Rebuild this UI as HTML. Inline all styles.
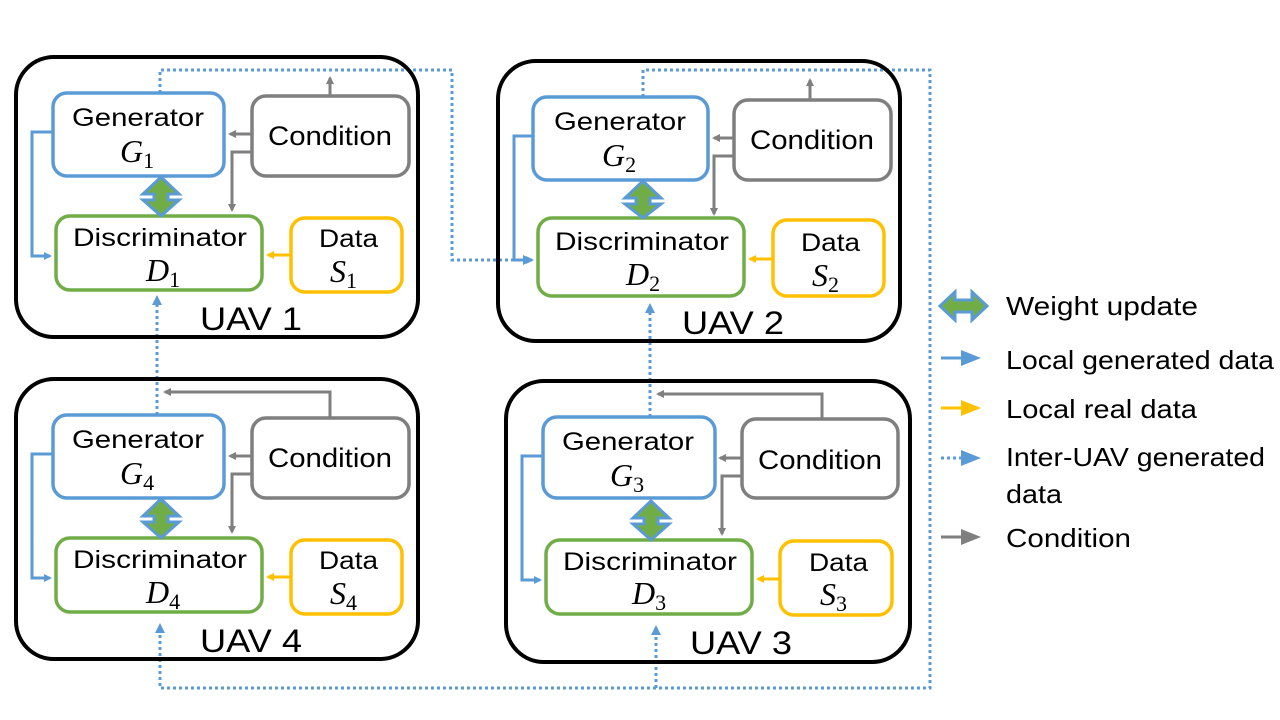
<!DOCTYPE html>
<html><head><meta charset="utf-8"><style>
html,body{margin:0;padding:0;background:#fff;}
svg{display:block;}
text{font-family:"Liberation Sans","DejaVu Sans",sans-serif;fill:#000;}
.m{font-family:"Liberation Serif",serif;font-style:italic;font-size:32px;}
.sub{font-style:normal;font-size:22px;}
.g{font-size:25px;}
.c{font-size:27px;}
</style></head><body>
<svg width="1280" height="720" viewBox="0 0 1280 720" xmlns="http://www.w3.org/2000/svg">
<defs>
<marker id="ab" markerWidth="8" markerHeight="8" refX="6" refY="4" orient="auto" markerUnits="userSpaceOnUse"><path d="M0,0 L8,4 L0,8 z" fill="#5b9bd5"/></marker>
<marker id="ag" markerWidth="8" markerHeight="8" refX="6" refY="4" orient="auto" markerUnits="userSpaceOnUse"><path d="M0,0 L8,4 L0,8 z" fill="#7f7f7f"/></marker>
<marker id="ay" markerWidth="8" markerHeight="8" refX="6" refY="4" orient="auto" markerUnits="userSpaceOnUse"><path d="M0,0 L8,4 L0,8 z" fill="#ffc000"/></marker>
<marker id="abd" markerWidth="10" markerHeight="10" refX="7" refY="5" orient="auto" markerUnits="userSpaceOnUse"><path d="M0,0 L10,5 L0,10 z" fill="#5b9bd5"/></marker>
</defs>

<g fill="none" stroke="#5b9bd5" stroke-width="3" stroke-dasharray="3,3">
<polyline points="160,93 160,70 452,70 452,260 530,260" marker-end="url(#abd)"/>
<polyline points="643,97 643,70 930,70 930,688 160,688 160,626" marker-end="url(#abd)"/>
<polyline points="656,688 656,628" marker-end="url(#abd)"/>
<polyline points="157,415 157,298" marker-end="url(#abd)"/>
<polyline points="650,417 650,306" marker-end="url(#abd)"/>
</g>

<g fill="none" stroke="#7f7f7f" stroke-width="3">
<polyline points="330,96 330,78" marker-end="url(#ag)"/>
<polyline points="810,100 810,80" marker-end="url(#ag)"/>
<polyline points="330,418 330,392 165,392" marker-end="url(#ag)"/>
<polyline points="822,419 822,394 658,394" marker-end="url(#ag)"/>
</g>

<g>
<rect x="16" y="57" width="402" height="280" rx="38" fill="none" stroke="#000" stroke-width="4"/>
<polyline points="53,132 32,132 32,256 50,256" fill="none" stroke="#5b9bd5" stroke-width="3" marker-end="url(#ab)"/>
<polyline points="252,134 230,134" fill="none" stroke="#7f7f7f" stroke-width="3" marker-end="url(#ag)"/>
<polyline points="252,152 232,152 232,210" fill="none" stroke="#7f7f7f" stroke-width="3" marker-end="url(#ag)"/>
<polyline points="291,255 268,255" fill="none" stroke="#ffc000" stroke-width="3" marker-end="url(#ay)"/>
<rect x="53" y="93" width="171" height="83" rx="14" fill="#fff" stroke="#5b9bd5" stroke-width="3.5"/>
<rect x="252" y="96" width="157" height="80" rx="14" fill="#fff" stroke="#7f7f7f" stroke-width="3.5"/>
<rect x="56" y="216" width="206" height="74" rx="14" fill="#fff" stroke="#70ad47" stroke-width="3.5"/>
<rect x="291" y="218" width="111" height="74" rx="14" fill="#fff" stroke="#ffc000" stroke-width="3.5"/>
<polygon points="161,177 179,194 168,194 168,200 179,200 161,216 143,200 154,200 154,194 143,194" fill="#70ad47" stroke="#5b9bd5" stroke-width="3"/>
<text class="g" x="72" y="126" textLength="132" lengthAdjust="spacingAndGlyphs">Generator</text>
<text class="c" x="268" y="145" textLength="124" lengthAdjust="spacingAndGlyphs">Condition</text>
<text class="g" x="73" y="246" textLength="174" lengthAdjust="spacingAndGlyphs">Discriminator</text>
<text class="g" x="319" y="247" textLength="59" lengthAdjust="spacingAndGlyphs">Data</text>
</g>
<g transform="translate(482,4)">
<rect x="16" y="57" width="402" height="280" rx="38" fill="none" stroke="#000" stroke-width="4"/>
<polyline points="51,132 32,132 32,256 50,256" fill="none" stroke="#5b9bd5" stroke-width="3" marker-end="url(#ab)"/>
<polyline points="252,134 232,134" fill="none" stroke="#7f7f7f" stroke-width="3" marker-end="url(#ag)"/>
<polyline points="252,152 232,152 232,210" fill="none" stroke="#7f7f7f" stroke-width="3" marker-end="url(#ag)"/>
<polyline points="291,255 268,255" fill="none" stroke="#ffc000" stroke-width="3" marker-end="url(#ay)"/>
<rect x="51" y="93" width="175" height="83" rx="14" fill="#fff" stroke="#5b9bd5" stroke-width="3.5"/>
<rect x="252" y="96" width="157" height="80" rx="14" fill="#fff" stroke="#7f7f7f" stroke-width="3.5"/>
<rect x="56" y="214" width="206" height="78" rx="14" fill="#fff" stroke="#70ad47" stroke-width="3.5"/>
<rect x="291" y="216" width="111" height="76" rx="14" fill="#fff" stroke="#ffc000" stroke-width="3.5"/>
<polygon points="161,177 179,194 168,194 168,200 179,200 161,214 143,200 154,200 154,194 143,194" fill="#70ad47" stroke="#5b9bd5" stroke-width="3"/>
<text class="g" x="72" y="126" textLength="132" lengthAdjust="spacingAndGlyphs">Generator</text>
<text class="c" x="268" y="145" textLength="124" lengthAdjust="spacingAndGlyphs">Condition</text>
<text class="g" x="73" y="246" textLength="174" lengthAdjust="spacingAndGlyphs">Discriminator</text>
<text class="g" x="319" y="247" textLength="59" lengthAdjust="spacingAndGlyphs">Data</text>
</g>
<g transform="translate(0,322)">
<rect x="16" y="57" width="402" height="280" rx="38" fill="none" stroke="#000" stroke-width="4"/>
<polyline points="53,132 32,132 32,256 50,256" fill="none" stroke="#5b9bd5" stroke-width="3" marker-end="url(#ab)"/>
<polyline points="252,134 230,134" fill="none" stroke="#7f7f7f" stroke-width="3" marker-end="url(#ag)"/>
<polyline points="252,152 232,152 232,210" fill="none" stroke="#7f7f7f" stroke-width="3" marker-end="url(#ag)"/>
<polyline points="291,255 268,255" fill="none" stroke="#ffc000" stroke-width="3" marker-end="url(#ay)"/>
<rect x="53" y="93" width="171" height="83" rx="14" fill="#fff" stroke="#5b9bd5" stroke-width="3.5"/>
<rect x="252" y="96" width="157" height="80" rx="14" fill="#fff" stroke="#7f7f7f" stroke-width="3.5"/>
<rect x="56" y="216" width="206" height="74" rx="14" fill="#fff" stroke="#70ad47" stroke-width="3.5"/>
<rect x="291" y="218" width="111" height="74" rx="14" fill="#fff" stroke="#ffc000" stroke-width="3.5"/>
<polygon points="161,177 179,194 168,194 168,200 179,200 161,216 143,200 154,200 154,194 143,194" fill="#70ad47" stroke="#5b9bd5" stroke-width="3"/>
<text class="g" x="72" y="126" textLength="132" lengthAdjust="spacingAndGlyphs">Generator</text>
<text class="c" x="268" y="145" textLength="124" lengthAdjust="spacingAndGlyphs">Condition</text>
<text class="g" x="73" y="246" textLength="174" lengthAdjust="spacingAndGlyphs">Discriminator</text>
<text class="g" x="319" y="247" textLength="59" lengthAdjust="spacingAndGlyphs">Data</text>
</g>
<g transform="translate(490,324)">
<rect x="16" y="57" width="404" height="281" rx="38" fill="none" stroke="#000" stroke-width="4"/>
<polyline points="53,132 32,132 32,256 50,256" fill="none" stroke="#5b9bd5" stroke-width="3" marker-end="url(#ab)"/>
<polyline points="252,134 230,134" fill="none" stroke="#7f7f7f" stroke-width="3" marker-end="url(#ag)"/>
<polyline points="252,152 232,152 232,210" fill="none" stroke="#7f7f7f" stroke-width="3" marker-end="url(#ag)"/>
<polyline points="291,255 268,255" fill="none" stroke="#ffc000" stroke-width="3" marker-end="url(#ay)"/>
<rect x="53" y="93" width="172" height="81" rx="14" fill="#fff" stroke="#5b9bd5" stroke-width="3.5"/>
<rect x="252" y="95" width="156" height="79" rx="14" fill="#fff" stroke="#7f7f7f" stroke-width="3.5"/>
<rect x="56" y="216" width="206" height="74" rx="14" fill="#fff" stroke="#70ad47" stroke-width="3.5"/>
<rect x="290" y="217" width="112" height="74" rx="14" fill="#fff" stroke="#ffc000" stroke-width="3.5"/>
<polygon points="161,177 179,194 168,194 168,200 179,200 161,216 143,200 154,200 154,194 143,194" fill="#70ad47" stroke="#5b9bd5" stroke-width="3"/>
<text class="g" x="72" y="126" textLength="132" lengthAdjust="spacingAndGlyphs">Generator</text>
<text class="c" x="268" y="145" textLength="124" lengthAdjust="spacingAndGlyphs">Condition</text>
<text class="g" x="73" y="246" textLength="174" lengthAdjust="spacingAndGlyphs">Discriminator</text>
<text class="g" x="319" y="247" textLength="59" lengthAdjust="spacingAndGlyphs">Data</text>
</g>

<text class="m" x="120" y="162">G<tspan class="sub" dy="6">1</tspan></text>
<text class="m" x="146" y="281">D<tspan class="sub" dy="6">1</tspan></text>
<text class="m" x="330" y="282">S<tspan class="sub" dy="6">1</tspan></text>
<text class="m" x="602" y="166">G<tspan class="sub" dy="6">2</tspan></text>
<text class="m" x="626" y="285">D<tspan class="sub" dy="6">2</tspan></text>
<text class="m" x="812" y="286">S<tspan class="sub" dy="6">2</tspan></text>
<text class="m" x="120" y="484">G<tspan class="sub" dy="6">4</tspan></text>
<text class="m" x="146" y="603">D<tspan class="sub" dy="6">4</tspan></text>
<text class="m" x="330" y="604">S<tspan class="sub" dy="6">4</tspan></text>
<text class="m" x="610" y="486">G<tspan class="sub" dy="6">3</tspan></text>
<text class="m" x="632" y="604">D<tspan class="sub" dy="6">3</tspan></text>
<text class="m" x="820" y="605">S<tspan class="sub" dy="6">3</tspan></text>

<text x="200" y="330" style="font-size:32px" textLength="102" lengthAdjust="spacingAndGlyphs">UAV 1</text>
<text x="682" y="334" style="font-size:32px" textLength="102" lengthAdjust="spacingAndGlyphs">UAV 2</text>
<text x="200" y="652" style="font-size:32px" textLength="102" lengthAdjust="spacingAndGlyphs">UAV 4</text>
<text x="690" y="654" style="font-size:32px" textLength="102" lengthAdjust="spacingAndGlyphs">UAV 3</text>

<polygon points="940,306 955,292 955,300 972,300 972,292 987,306 972,320 972,312 955,312 955,320" fill="#70ad47" stroke="#5b9bd5" stroke-width="3"/>
<line x1="941" y1="358" x2="972" y2="358" stroke="#5b9bd5" stroke-width="3"/><path d="M961,350 L981,358 L961,366 z" fill="#5b9bd5"/>
<line x1="941" y1="408" x2="972" y2="408" stroke="#ffc000" stroke-width="3"/><path d="M961,400 L981,408 L961,416 z" fill="#ffc000"/>
<line x1="941" y1="458" x2="962" y2="458" stroke="#5b9bd5" stroke-width="3" stroke-dasharray="3,3"/><path d="M961,450 L981,458 L961,466 z" fill="#5b9bd5"/>
<line x1="941" y1="537" x2="972" y2="537" stroke="#7f7f7f" stroke-width="3"/><path d="M961,529 L981,537 L961,545 z" fill="#7f7f7f"/>
<g style="font-size:26px">
<text x="1006" y="315" textLength="192" lengthAdjust="spacingAndGlyphs">Weight update</text>
<text x="1006" y="369" textLength="268" lengthAdjust="spacingAndGlyphs">Local generated data</text>
<text x="1006" y="418" textLength="191" lengthAdjust="spacingAndGlyphs">Local real data</text>
<text x="1006" y="466" textLength="259" lengthAdjust="spacingAndGlyphs">Inter-UAV generated</text>
<text x="1006" y="503" textLength="56" lengthAdjust="spacingAndGlyphs">data</text>
<text x="1006" y="547" textLength="125" lengthAdjust="spacingAndGlyphs">Condition</text>
</g>
</svg>
</body></html>
